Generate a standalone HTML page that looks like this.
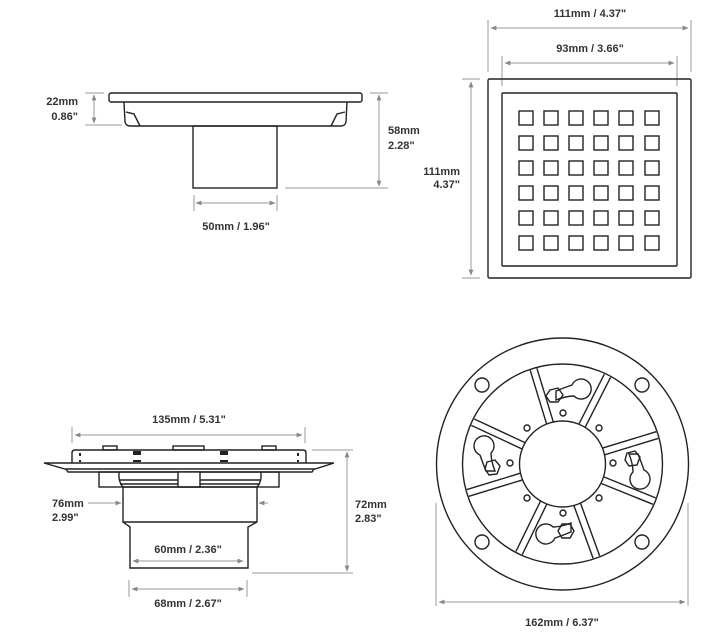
<!DOCTYPE html>
<html><head><meta charset="utf-8"><style>
html,body{margin:0;padding:0;background:#fff;}
svg{display:block;}
text{font-family:"Liberation Sans",sans-serif;font-weight:bold;font-size:11px;fill:#333;}
</style></head><body>
<svg width="720" height="644" viewBox="0 0 720 644" xmlns="http://www.w3.org/2000/svg">
<defs>
<marker id="a" viewBox="0 0 10 10" refX="9" refY="5" markerWidth="6" markerHeight="6" orient="auto-start-reverse"><path d="M0,1 L10,5 L0,9 z" fill="#888"/></marker>
</defs>
<g stroke="#999" stroke-width="1" fill="none">
<line x1="85" y1="93" x2="104" y2="93"/><line x1="85" y1="125" x2="122" y2="125"/>
<line x1="94" y1="95" x2="94" y2="123" marker-start="url(#a)" marker-end="url(#a)"/>
<line x1="370" y1="93" x2="388" y2="93"/><line x1="285" y1="188" x2="388" y2="188"/>
<line x1="379" y1="95" x2="379" y2="186" marker-start="url(#a)" marker-end="url(#a)"/>
<line x1="194" y1="195" x2="194" y2="211"/><line x1="277" y1="195" x2="277" y2="211"/>
<line x1="196" y1="203" x2="275" y2="203" marker-start="url(#a)" marker-end="url(#a)"/>
<line x1="488" y1="20" x2="488" y2="72"/><line x1="691" y1="20" x2="691" y2="72"/>
<line x1="491" y1="28" x2="688" y2="28" marker-start="url(#a)" marker-end="url(#a)"/>
<line x1="502" y1="56" x2="502" y2="86"/><line x1="677" y1="56" x2="677" y2="86"/>
<line x1="505" y1="63" x2="674" y2="63" marker-start="url(#a)" marker-end="url(#a)"/>
<line x1="462" y1="79" x2="480" y2="79"/><line x1="462" y1="278" x2="480" y2="278"/>
<line x1="471" y1="82" x2="471" y2="275" marker-start="url(#a)" marker-end="url(#a)"/>
<line x1="72" y1="427" x2="72" y2="443"/><line x1="305" y1="427" x2="305" y2="443"/>
<line x1="75" y1="435" x2="302" y2="435" marker-start="url(#a)" marker-end="url(#a)"/>
<line x1="312" y1="450" x2="353" y2="450"/><line x1="252" y1="573" x2="353" y2="573"/>
<line x1="347" y1="452" x2="347" y2="571" marker-start="url(#a)" marker-end="url(#a)"/>
<line x1="88" y1="503" x2="121" y2="503" marker-end="url(#a)"/>
<line x1="268" y1="503" x2="259" y2="503" marker-end="url(#a)"/>
<line x1="133" y1="561" x2="243" y2="561" marker-start="url(#a)" marker-end="url(#a)"/>
<line x1="129" y1="580" x2="129" y2="597"/><line x1="247" y1="580" x2="247" y2="597"/>
<line x1="132" y1="589" x2="244" y2="589" marker-start="url(#a)" marker-end="url(#a)"/>
<line x1="436" y1="503" x2="436" y2="606"/><line x1="688" y1="503" x2="688" y2="606"/>
<line x1="439" y1="602" x2="685" y2="602" marker-start="url(#a)" marker-end="url(#a)"/>
</g>

<g stroke="#222" stroke-width="1.4" fill="none">
<rect x="109" y="93" width="253" height="9" rx="2"/>
<path d="M124,102 L125,122 Q126,126 130,126 L341,126 Q345,126 346,122 L347,102"/>
<path d="M126,112 L134,114 L140,126 M345,112 L337,114 L331,126"/>
<rect x="193" y="126" width="84" height="62"/>
<rect x="488" y="79" width="203" height="199" rx="1.5"/>
<rect x="502" y="93" width="175" height="173" rx="1"/>
</g>
<g stroke="#222" stroke-width="1.4" fill="none" id="sq">
<rect x="519" y="111" width="14" height="14"/><rect x="544" y="111" width="14" height="14"/><rect x="569" y="111" width="14" height="14"/><rect x="594" y="111" width="14" height="14"/><rect x="619" y="111" width="14" height="14"/><rect x="645" y="111" width="14" height="14"/>
</g>
<use href="#sq" y="25"/><use href="#sq" y="50"/><use href="#sq" y="75"/><use href="#sq" y="100"/><use href="#sq" y="125"/>

<g stroke="#222" stroke-width="1.4" fill="none">
<rect x="103" y="446" width="14" height="4"/><rect x="173" y="446" width="31" height="4"/><rect x="262" y="446" width="14" height="4"/>
<path d="M72,463 L72,453 Q72,450 75,450 L303,450 Q306,450 306,453 L306,463"/>
<path d="M44,463 L334,463 L315,469 L65,469 Z"/>
<path d="M66,469 L68,472 L312,472 L314,469"/>
<rect x="99" y="472" width="180" height="15"/>
<path d="M119,472 L119,478 Q120,484 123,487 M261,472 L261,478 Q260,484 257,487"/>
<line x1="119" y1="480" x2="261" y2="480"/><line x1="120" y1="484" x2="260" y2="484"/>
<rect x="178" y="472" width="22" height="15" fill="#fff"/>
<path d="M123,487 L123,522 L130,527 L130,568 L248,568 L248,527 L257,522 L257,487 Z"/>
<line x1="123" y1="522" x2="257" y2="522"/>
</g>
<g fill="#222">
<rect x="133" y="451" width="8" height="4"/><rect x="133" y="460" width="8" height="2"/>
<rect x="220" y="451" width="8" height="4"/><rect x="220" y="460" width="8" height="2"/>
<rect x="79" y="453" width="2" height="3"/><rect x="79" y="460" width="2" height="2"/>
<rect x="297" y="453" width="2" height="3"/><rect x="297" y="460" width="2" height="2"/>
</g>

<g stroke="#222" stroke-width="1.4" fill="none">
<circle cx="562.5" cy="464" r="126"/>
<circle cx="562.5" cy="464" r="100"/>
<circle cx="562.5" cy="464" r="43"/>
<g transform="translate(562.5,464) rotate(-107)"><line x1="43" y1="-3.5" x2="99" y2="-3.5"/><line x1="43" y1="3.5" x2="99" y2="3.5"/></g>
<g transform="translate(562.5,464) rotate(-63)"><line x1="43" y1="-3.5" x2="99" y2="-3.5"/><line x1="43" y1="3.5" x2="99" y2="3.5"/></g>
<g transform="translate(562.5,464) rotate(-17)"><line x1="43" y1="-3.5" x2="99" y2="-3.5"/><line x1="43" y1="3.5" x2="99" y2="3.5"/></g>
<g transform="translate(562.5,464) rotate(22)"><line x1="43" y1="-3.5" x2="99" y2="-3.5"/><line x1="43" y1="3.5" x2="99" y2="3.5"/></g>
<g transform="translate(562.5,464) rotate(70)"><line x1="43" y1="-3.5" x2="99" y2="-3.5"/><line x1="43" y1="3.5" x2="99" y2="3.5"/></g>
<g transform="translate(562.5,464) rotate(116)"><line x1="43" y1="-3.5" x2="99" y2="-3.5"/><line x1="43" y1="3.5" x2="99" y2="3.5"/></g>
<g transform="translate(562.5,464) rotate(163)"><line x1="43" y1="-3.5" x2="99" y2="-3.5"/><line x1="43" y1="3.5" x2="99" y2="3.5"/></g>
<g transform="translate(562.5,464) rotate(205)"><line x1="43" y1="-3.5" x2="99" y2="-3.5"/><line x1="43" y1="3.5" x2="99" y2="3.5"/></g>
<circle cx="482" cy="385" r="7"/><circle cx="642" cy="385" r="7"/><circle cx="482" cy="542" r="7"/><circle cx="642" cy="542" r="7"/>
<circle cx="563" cy="413" r="3"/><circle cx="527" cy="428" r="3"/><circle cx="599" cy="428" r="3"/><circle cx="510" cy="463" r="3"/><circle cx="613" cy="463" r="3"/><circle cx="527" cy="498" r="3"/><circle cx="599" cy="498" r="3"/><circle cx="563" cy="513" r="3"/>
<g transform="translate(582,390)"><path d="M-10,-5 A10,10 0 1 1 -8,6 Q-16,6 -26,10 L-26,1 Q-16,-3 -10,-5 Z"/></g>
<polygon points="550,390 558,388 563,395 558,402 550,402 546,396"/>
<g transform="translate(485,445) rotate(-90)"><path d="M-10,-5 A10,10 0 1 1 -8,6 Q-16,6 -26,10 L-26,1 Q-16,-3 -10,-5 Z"/></g>
<polygon points="487,462 495,460 500,466 497,474 489,475 485,469"/>
<g transform="translate(639,480) rotate(90)"><path d="M-10,-5 A10,10 0 1 1 -8,6 Q-16,6 -26,10 L-26,1 Q-16,-3 -10,-5 Z"/></g>
<polygon points="627,453 635,451 640,457 637,465 629,466 625,460"/>
<g transform="translate(545,533) rotate(180)"><path d="M-10,-5 A10,10 0 1 1 -8,6 Q-16,6 -26,10 L-26,1 Q-16,-3 -10,-5 Z"/></g>
<polygon points="562,524 570,524 574,531 570,538 562,538 558,531"/>
</g>

<text x="78" y="105" text-anchor="end">22mm</text><text x="78" y="120" text-anchor="end">0.86"</text>
<text x="388" y="134">58mm</text><text x="388" y="149">2.28"</text>
<text x="236" y="230" text-anchor="middle">50mm / 1.96"</text>
<text x="590" y="17" text-anchor="middle">111mm / 4.37"</text>
<text x="590" y="52" text-anchor="middle">93mm / 3.66"</text>
<text x="460" y="175" text-anchor="end">111mm</text><text x="460" y="188" text-anchor="end">4.37"</text>
<text x="189" y="423" text-anchor="middle">135mm / 5.31"</text>
<text x="52" y="507">76mm</text><text x="52" y="521">2.99"</text>
<text x="355" y="508">72mm</text><text x="355" y="522">2.83"</text>
<text x="188" y="553" text-anchor="middle">60mm / 2.36"</text>
<text x="188" y="607" text-anchor="middle">68mm / 2.67"</text>
<text x="562" y="626" text-anchor="middle">162mm / 6.37"</text>
</svg>
</body></html>
